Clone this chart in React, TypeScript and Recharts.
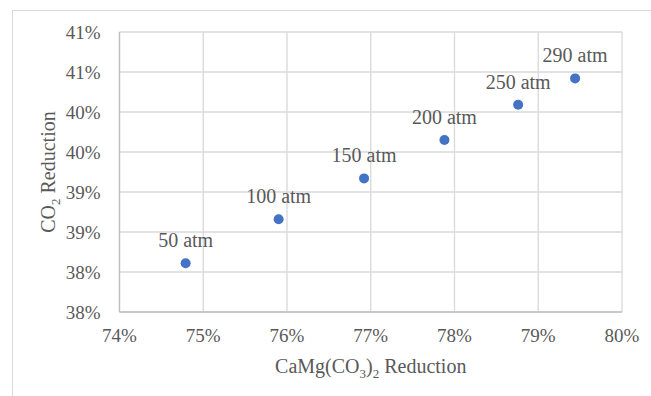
import React from "react";
import { ScatterChart, Scatter, XAxis, YAxis, CartesianGrid, Label } from "recharts";

const pressures = ["50 atm", "100 atm", "150 atm", "200 atm", "250 atm", "290 atm"];
const caMgReduction = [74.79, 75.9, 76.92, 77.88, 78.76, 79.44];
const co2Reduction = [38.11, 38.66, 39.17, 39.65, 40.09, 40.42];

const xTicks = [74, 75, 76, 77, 78, 79, 80];
const yTicks = [37.5, 38, 38.5, 39, 39.5, 40, 40.5, 41];

const data = pressures.map((name, i) => ({
  name,
  x: caMgReduction[i],
  y: co2Reduction[i],
}));

const FONT = "'Liberation Serif', 'Times New Roman', serif";
const TEXT = "#595959";
const GRID = "#D9D9D9";
const DOT = "#4472C4";

// circle plus its pressure label above
const PointShape = (props: any) => {
  const { cx, cy, payload } = props;
  return (
    <g>
      <circle cx={cx} cy={cy} r={5} fill={DOT} />
      <text
        x={cx}
        y={cy - 16}
        textAnchor="middle"
        fontFamily={FONT}
        fontSize={20}
        fill={TEXT}
      >
        {payload.name}
      </text>
    </g>
  );
};

const XTitle = (props: any) => {
  const { viewBox } = props;
  const cx = viewBox.x + viewBox.width / 2;
  return (
    <text x={cx} y={373} textAnchor="middle" fontFamily={FONT} fontSize={20} fill={TEXT}>
      CaMg(CO
      <tspan fontSize={13} dy={5}>3</tspan>
      <tspan dy={-5}>)</tspan>
      <tspan fontSize={13} dy={5}>2</tspan>
      <tspan dy={-5}> Reduction</tspan>
    </text>
  );
};

const YTitle = (props: any) => {
  const { viewBox } = props;
  const cy = viewBox.y + viewBox.height / 2;
  const x = 55;
  return (
    <text
      x={x}
      y={cy}
      transform={`rotate(-90, ${x}, ${cy})`}
      textAnchor="middle"
      fontFamily={FONT}
      fontSize={20}
      fill={TEXT}
    >
      CO
      <tspan fontSize={13} dy={5}>2</tspan>
      <tspan dy={-5}> Reduction</tspan>
    </text>
  );
};

export default function App() {
  return (
    <div
      style={{
        position: "fixed",
        top: 0,
        left: 0,
        width: 651,
        height: 396,
        overflow: "hidden",
        background: "#fff",
      }}
    >
      <div
        style={{
          position: "absolute",
          left: 12,
          top: 10,
          width: 700,
          height: 500,
          border: `1px solid ${GRID}`,
        }}
      />
      <div style={{ position: "absolute", left: 0, top: 0 }}>
        <ScatterChart
          width={651}
          height={396}
          margin={{ top: 32, right: 29, bottom: 24, left: 20 }}
        >
          <CartesianGrid stroke={GRID} strokeWidth={1.3} />
          <XAxis
            type="number"
            dataKey="x"
            domain={[74, 80]}
            ticks={xTicks}
            tickFormatter={(v: number) => `${v}%`}
            height={60}
            axisLine={{ stroke: "#BFBFBF", strokeWidth: 1.3 }}
            tickLine={false}
            tickSize={0}
            tickMargin={17}
            tick={{ fill: TEXT, fontFamily: FONT, fontSize: 19 }}
            interval={0}
          >
            <Label content={<XTitle />} />
          </XAxis>
          <YAxis
            type="number"
            dataKey="y"
            domain={[37.5, 41]}
            ticks={yTicks}
            tickFormatter={(v: number) => `${Math.round(v)}%`}
            width={99.5}
            axisLine={{ stroke: "#BFBFBF", strokeWidth: 1.3 }}
            tickLine={false}
            tickSize={0}
            tickMargin={19}
            tick={{ fill: TEXT, fontFamily: FONT, fontSize: 19 }}
            interval={0}
          >
            <Label content={<YTitle />} />
          </YAxis>
          <Scatter data={data} shape={PointShape} isAnimationActive={false} />
        </ScatterChart>
      </div>
    </div>
  );
}
